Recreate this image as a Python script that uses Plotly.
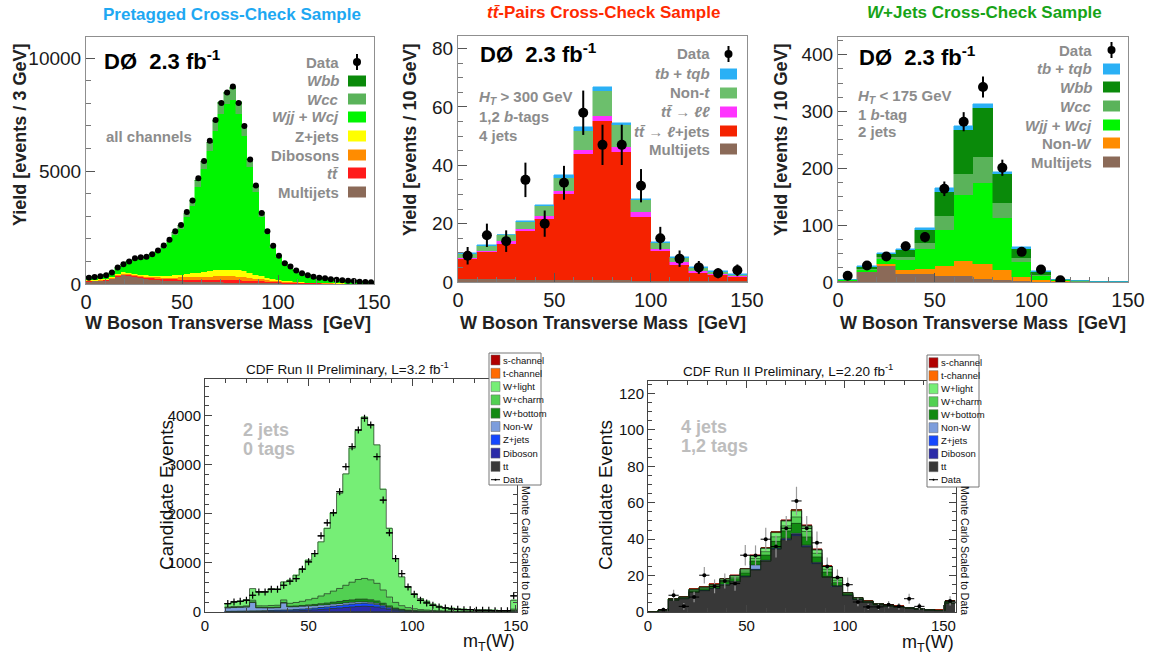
import plotly.graph_objects as go

FIG_W, FIG_H = 1151, 660
def px(x): return x / FIG_W
def py(y): return 1 - y / FIG_H

# ------------------------------------------------------------------ data
# Panel 1: D0 pretagged, 3 GeV bins from 0 to 150
p1_bin_width = 3
p1_data = [282,311,341,386,505,727,875,994,1143,1187,1202,1321,1484,1707,1959,2330,2612,3190,3695,4675,
           5446,6337,7257,8014,8474,8741,8014,6990,5506,4363,3146,2330,1692,1247,920,772,594,475,386,326,
           282,252,208,193,163,148,134,104,89,74]
p1_multijets = [110,120,130,150,220,330,390,370,310,260,220,190,170,150,135,125,115,105,95,90,
                85,80,75,70,65,60,55,50,45,40,36,32,28,25,22,20,18,16,14,12,11,10,9,8,7,6,6,5,5,4]
p1_ttbar = [10,12,14,16,20,25,30,35,40,45,50,55,60,65,70,75,80,85,90,95,100,105,108,110,110,108,105,100,92,85,
            75,65,55,47,40,33,28,23,19,16,13,11,9,8,7,6,5,4,4,3]
p1_dibosons = [10,12,14,16,20,25,30,35,40,45,50,55,60,68,75,85,95,105,115,125,135,145,155,160,165,165,160,150,135,115,
               95,75,58,45,35,27,21,17,14,11,9,8,7,6,5,4,4,3,3,2]
p1_zjets = [40,45,50,55,60,60,60,55,55,55,60,65,70,80,90,105,125,145,170,195,220,245,265,285,295,295,285,260,225,180,
            140,105,78,58,44,34,26,20,16,13,11,9,8,7,6,5,4,4,3,3]
p1_wjj = [112,117,128,142,186,279,363,470,628,720,790,888,1042,1225,1469,1757,2031,2519,3002,3807,
          4565,5321,6179,6902,7312,7504,6921,5986,4697,3653,2607,1927,1377,999,734,610,472,376,304,258,
          225,197,169,154,131,120,108,87,74,63]
p1_wcc = [7,8,8,9,12,18,23,30,40,47,51,57,67,79,95,114,132,164,195,247,296,346,401,448,474,487,449,389,305,237,
          169,125,89,65,47,39,30,24,20,17,14,13,11,10,8,8,7,6,5,4]
p1_wbb = [1,1,1,2,2,3,4,5,7,8,9,10,11,13,16,19,22,27,33,41,49,58,67,75,79,81,75,65,51,40,
          28,21,15,11,8,7,5,4,3,3,2,2,2,2,1,1,1,1,1,1]

# Panel 2: D0 ttbar cross-check, 10 GeV bins
p2_bin_width = 10
p2_multijets = [0.9,0.9,0.9,0.8,0.8,0.8,0.7,0.7,0.6,0.5,0.4,0.3,0.3,0.2,0.2]
p2_tt_ljets = [7.1,9.4,12.2,16.7,20.9,29.5,43.1,54.5,44.0,21.8,10.2,5.4,2.8,2.2,1.5]
p2_tt_ll = [0.3,0.3,0.8,0.6,0.9,0.9,1.3,1.6,1.6,1.6,0.8,1.2,0.7,0.5,0.5]
p2_non_t = [1.2,1.7,2.1,2.6,3.3,4.6,6.6,8.7,7.6,4.1,2.1,1.4,1.1,0.5,0.2]
p2_tb_tqb = [0.3,0.3,0.2,0.2,0.6,0.7,1.3,1.2,0.8,0.5,0.2,0.3,0.2,0.3,0.2]
p2_data = [9,16,14,35,20,34,58,47,47,33,15,8,5,3,4]
p2_err = [3.0,4.0,3.7,5.9,4.5,5.8,7.6,6.9,6.9,5.7,3.9,2.8,2.2,1.7,2.0]

# Panel 3: D0 W+jets cross-check, 10 GeV bins
p3_bin_width = 10
p3_multijets = [1,17.6,27.6,14.7,13.5,10.6,10,5.3,2.9,1.2,0.6,0.3,0.1,0,0]
p3_non_w = [0.5,0.5,4.7,7,10,17.6,26.4,27,18.8,7.6,2.3,0.8,0.2,0,0]
p3_wjj = [1.5,3.6,8.7,17.6,35.2,63.8,116.1,141.9,90.9,26.4,8.2,2.0,0.5,0,0]
p3_wcc = [0.3,1.2,3,4.7,10.5,23.5,38.1,45.7,26.4,7,1.8,0.4,0.1,0,0]
p3_wbb = [0.7,3.5,6,11.7,22.8,42.9,76.3,86.3,51.6,16.5,4.7,0.6,0.2,0,0]
p3_tb_tqb = [0.2,1.2,1.6,1.8,3,7,7.6,7.6,2.9,2.9,1.2,0.2,0,0,0]
p3_data = [11,29,45,63,79,164,282,343,201,53,22,3]
p3_err = [3.3,5.4,6.7,7.9,8.9,12.8,16.8,18.5,14.2,7.3,4.7,1.7]

# Panel 4: CDF 2 jets 0 tags, 3 GeV bins starting at 9.5
p4_first_edge = 9.5
p4_bin_width = 3
p4_tt = [1,1,1,1,2,2,2,2,3,3,3,4,4,5,5,6,6,7,7,8,8,8,8,8,7,6,5,4,4,3,3,2,2,2,2,1,1,1,1,1,1,1,1,1,1,1,2]
p4_diboson = [5,6,7,8,9,10,12,14,16,18,20,24,28,33,40,48,56,65,75,85,95,105,110,105,95,75,50,30,18,12,
              8,6,5,4,3,3,2,2,2,2,1,1,1,1,1,1,3]
p4_zjets = [8,9,10,11,12,13,14,15,17,19,21,24,27,30,34,38,42,46,50,54,58,60,60,56,50,40,28,18,11,7,
            5,4,3,3,2,2,2,1,1,1,1,1,1,1,1,1,3]
p4_non_w = [70,75,75,80,170,60,55,50,50,140,60,55,55,55,50,50,45,45,40,40,35,35,30,28,25,20,15,12,10,8,
            7,6,5,5,4,4,3,3,3,3,2,2,2,2,2,2,20]
p4_wbottom = [5,6,6,7,12,10,10,12,12,14,15,17,19,22,25,29,34,38,43,48,52,55,56,54,48,38,27,17,11,8,
              6,5,4,3,3,2,2,2,2,1,1,1,1,1,1,1,6]
p4_wcharm = [12,14,15,18,36,32,33,40,40,52,58,70,85,105,125,155,190,225,265,310,360,400,420,405,360,270,180,115,75,52,
             38,28,22,16,12,9,8,6,6,5,4,4,4,3,3,3,25]
p4_wlight = [69,94,104,127,236,282,283,344,325,367,470,555,667,806,913,1104,1331,1598,1940,2270,
             2732,3037,3289,3160,2822,2053,1399,894,586,421,308,222,177,124,90,68,57,46,40,35,31,31,25,26,19,19,180]
p4_data = [171,205,218,239,341,409,409,463,463,545,627,681,872,1022,1192,1553,1818,2022,2452,2962,
           3371,3711,3950,3814,3167,2281,1614,1090,783,511,360,239,184,137,102,82,62,55,48,48,35,35,35,28,28,28,330]

# Panel 5: CDF 4 jets 1,2 tags, 5.2 GeV bins from 0
p5_bin_width = 5.2
p5_tt = [0,0.8,6.4,7.3,10.8,11.7,12.8,14.7,16.5,19.3,23.0,27.8,34.4,39.6,42.0,35.7,26.6,19.0,14.0,9.0,
         6.8,5.3,4.0,3.2,2.7,2.1,1.6,1.1,0.8,4.8]
p5_diboson = [0,0,0.05,0.05,0.1,0.1,0.1,0.15,0.15,0.2,0.3,0.3,0.4,0.5,0.6,0.5,0.3,0.2,0.2,0.1,
              0.05,0.03,0.02,0.02,0.02,0.01,0.01,0.01,0.01,0.05]
p5_zjets = [0,0,0.02,0.02,0.05,0.05,0.05,0.08,0.08,0.1,0.15,0.15,0.2,0.25,0.3,0.25,0.15,0.1,0.1,0.05,
            0.02,0.02,0.01,0.01,0.01,0,0,0,0,0.03]
p5_non_w = [0,0,0.1,0.1,0.1,0.1,0.15,0.2,0.2,0.2,2.4,0.2,0.2,0.2,0.3,0.3,0.2,0.2,0.1,0.1,
            0.05,0.05,0.05,0.05,0.03,0.03,0.02,0.02,0.01,0.1]
p5_wbottom = [0,0.1,0.35,0.4,0.65,0.8,0.9,1.4,1.4,1.7,2.1,2.8,3.6,4.0,5.5,4.5,3.0,2.4,1.8,0.6,
              0.4,0.25,0.2,0.18,0.14,0.1,0.07,0.07,0.03,0.4]
p5_wcharm = [0,0.05,0.2,0.22,0.4,0.45,0.55,0.85,0.85,1.1,1.5,1.9,2.5,2.8,3.5,3.0,2.0,1.6,1.3,0.4,
             0.3,0.18,0.15,0.12,0.1,0.08,0.05,0.05,0.03,0.25]
p5_wlight = [0,0.05,0.18,0.2,0.35,0.45,0.55,0.8,0.8,1.0,1.4,1.8,2.3,2.6,3.3,2.8,1.8,1.4,1.2,0.35,
             0.25,0.15,0.14,0.1,0.08,0.06,0.04,0.04,0.02,0.25]
p5_tchan = [0,0,0,0.01,0.03,0.03,0.05,0.06,0.06,0.1,0.15,0.15,0.2,0.25,0.4,0.3,0.2,0.1,0.1,0.05,
            0.03,0.02,0.02,0.01,0.01,0.01,0.01,0.01,0,0.02]
p5_schan = [0,0,0,0,0.02,0.02,0.03,0.04,0.04,0.1,0.1,0.1,0.2,0.2,0.3,0.25,0.15,0.1,0.1,0.05,
            0.02,0.02,0.01,0.01,0.01,0.01,0.01,0.01,0,0.02]
p5_data = [None,1.3,9.2,3.1,8.2,20.2,14.1,17,15.6,31.2,31,40,36,46,61,46,38,25,19,15,
           5.5,2.8,2.8,4,3.1,7.3,3.1,None,None,6.1]
p5_err = [0,1.1,3.0,1.8,2.9,4.5,3.8,4.1,3.9,5.6,5.6,6.3,6.0,6.8,7.8,6.8,6.2,5.0,4.4,3.9,
          2.3,1.7,1.7,2.0,1.8,2.7,1.8,0,0,2.5]

# tick labels
d0_x_ticks = [0, 50, 100, 150]
p1_y_ticks = [0, 5000, 10000]
p2_y_ticks = [0, 20, 40, 60, 80]
p3_y_ticks = [0, 100, 200, 300, 400]
p4_y_ticks = [0, 1000, 2000, 3000, 4000]
p5_y_ticks = [0, 20, 40, 60, 80, 100, 120]

# ------------------------------------------------------------------ colours
C_WBB = '#0a8a0a'
C_WCC = '#5ab35a'
C_WJJ = '#00f500'
C_Z = '#ffff00'
C_DIB = '#ff8c00'
C_TT = '#ff1a1a'
C_MJ = '#8b6a58'
C_TB = '#2ab0f5'
C_NONT = '#6cbf6c'
C_TTLL = '#ff33ff'
C_TTLJ = '#f52200'
C_NONW3 = '#ff8c00'

CDF_COLS = {
    's-channel': '#b00000', 't-channel': '#ff6a00', 'W+light': '#76ee76', 'W+charm': '#52d052',
    'W+bottom': '#128a12', 'Non-W': '#7d9ddc', 'Z+jets': '#1547ff', 'Diboson': '#2b2ba8', 'tt': '#383838'}

FONT = 'Liberation Sans, Arial, Helvetica, sans-serif'
GRAY_TXT = '#8c8c8c'

fig = go.Figure()

def centers_from(first_edge, width, n):
    return [first_edge + width * (i + 0.5) for i in range(n)]

def edges_from(first_edge, width, n):
    return [first_edge + width * i for i in range(n + 1)]

def add_stack(comps, colors, centers, width, ax):
    for vals, col in zip(comps, colors):
        fig.add_trace(go.Bar(x=centers, y=vals, width=width,
                             marker=dict(color=col, line=dict(color=col, width=0.5)),
                             xaxis='x' + ax, yaxis='y' + ax, showlegend=False, hoverinfo='skip'))

def add_outlines(comps, edges, ax, color, width):
    cum = [0.0] * len(comps[0])
    for vals in comps:
        cum = [c + v for c, v in zip(cum, vals)]
        fig.add_trace(go.Scatter(x=edges, y=cum + [cum[-1]], mode='lines',
                                 line=dict(color=color, width=width, shape='hv'),
                                 xaxis='x' + ax, yaxis='y' + ax, showlegend=False, hoverinfo='skip'))

# Panel 1
c1 = centers_from(0, p1_bin_width, len(p1_data))
add_stack([p1_multijets, p1_ttbar, p1_dibosons, p1_zjets, p1_wjj, p1_wcc, p1_wbb],
          [C_MJ, C_TT, C_DIB, C_Z, C_WJJ, C_WCC, C_WBB], c1, p1_bin_width, '')
fig.add_trace(go.Scatter(x=c1, y=p1_data, mode='markers', marker=dict(color='black', size=6),
                         xaxis='x', yaxis='y', showlegend=False))

# Panel 2
c2 = centers_from(0, p2_bin_width, len(p2_multijets))
add_stack([p2_multijets, p2_tt_ljets, p2_tt_ll, p2_non_t, p2_tb_tqb],
          [C_MJ, C_TTLJ, C_TTLL, C_NONT, C_TB], c2, p2_bin_width, '2')
fig.add_trace(go.Scatter(x=c2[:len(p2_data)], y=p2_data, mode='markers',
                         marker=dict(color='black', size=10),
                         error_y=dict(type='data', array=p2_err, color='black', thickness=2, width=0),
                         xaxis='x2', yaxis='y2', showlegend=False))

# Panel 3
c3 = centers_from(0, p3_bin_width, len(p3_multijets))
add_stack([p3_multijets, p3_non_w, p3_wjj, p3_wcc, p3_wbb, p3_tb_tqb],
          [C_MJ, C_NONW3, C_WJJ, C_WCC, C_WBB, C_TB], c3, p3_bin_width, '3')
fig.add_trace(go.Scatter(x=c3[:len(p3_data)], y=p3_data, mode='markers',
                         marker=dict(color='black', size=10),
                         error_y=dict(type='data', array=p3_err, color='black', thickness=2, width=0),
                         xaxis='x3', yaxis='y3', showlegend=False))

# Panel 4
n4 = len(p4_wlight)
c4 = centers_from(p4_first_edge, p4_bin_width, n4)
e4 = edges_from(p4_first_edge, p4_bin_width, n4)
comps4 = [p4_tt, p4_diboson, p4_zjets, p4_non_w, p4_wbottom, p4_wcharm, p4_wlight]
cols4 = [CDF_COLS[k] for k in ['tt', 'Diboson', 'Z+jets', 'Non-W', 'W+bottom', 'W+charm', 'W+light']]
add_stack(comps4, cols4, c4, p4_bin_width, '4')
add_outlines(comps4, e4, '4', 'rgba(40,60,40,0.75)', 1)
fig.add_trace(go.Scatter(x=c4, y=p4_data, mode='markers',
                         marker=dict(color='black', size=5, symbol='cross-thin', line=dict(color='black', width=1.2)),
                         error_x=dict(type='constant', value=p4_bin_width / 2, color='black', thickness=1, width=0),
                         xaxis='x4', yaxis='y4', showlegend=False))

# Panel 5
n5 = len(p5_tt)
c5 = centers_from(0, p5_bin_width, n5)
e5 = edges_from(0, p5_bin_width, n5)
comps5 = [p5_tt, p5_diboson, p5_zjets, p5_non_w, p5_wbottom, p5_wcharm, p5_wlight, p5_tchan, p5_schan]
cols5 = [CDF_COLS[k] for k in ['tt', 'Diboson', 'Z+jets', 'Non-W', 'W+bottom', 'W+charm', 'W+light',
                               't-channel', 's-channel']]
add_stack(comps5, cols5, c5, p5_bin_width, '5')
add_outlines(comps5, e5, '5', 'rgba(20,40,20,0.7)', 0.8)
fig.add_trace(go.Scatter(x=c5, y=p5_data, mode='markers',
                         marker=dict(color='black', size=4),
                         error_x=dict(type='constant', value=p5_bin_width / 2, color='black', thickness=1, width=0),
                         error_y=dict(type='data', array=p5_err, color='#9a9a9a', thickness=1.2, width=0),
                         xaxis='x5', yaxis='y5', showlegend=False))

# ------------------------------------------------------------------ axes
def d0_axis(domain, rng, anchor, tickvals, minor_dtick, size):
    return dict(domain=domain, range=rng, anchor=anchor, tickvals=tickvals,
                ticktext=[str(v) for v in tickvals],
                showline=True, linecolor='#8f8f8f', linewidth=1, mirror=True,
                ticks='inside', ticklen=9, tickcolor='#555', tickwidth=1,
                minor=dict(ticks='inside', ticklen=5, tickcolor='#777', dtick=minor_dtick),
                showgrid=False, zeroline=False, fixedrange=True, automargin=False,
                tickfont=dict(family=FONT, size=size, color='#1a1a1a'))

def cdf_axis(domain, rng, anchor, tickvals, minor_dtick):
    return dict(domain=domain, range=rng, anchor=anchor, tickvals=tickvals,
                ticktext=[str(v) for v in tickvals],
                showline=True, linecolor='#444', linewidth=1, mirror='ticks',
                ticks='inside', ticklen=7, tickcolor='#444', tickwidth=1,
                minor=dict(ticks='inside', ticklen=4, tickcolor='#444', dtick=minor_dtick),
                showgrid=False, zeroline=False, fixedrange=True, automargin=False,
                tickfont=dict(family=FONT, size=15, color='#111'))

layout = dict(
    width=FIG_W, height=FIG_H, margin=dict(l=0, r=0, t=0, b=0, pad=0), autosize=False,
    paper_bgcolor='white', plot_bgcolor='white', barmode='stack', bargap=0,
    showlegend=False,
    xaxis=d0_axis([px(86), px(374)], [0, 150], 'y', d0_x_ticks, 10, 20),
    yaxis=d0_axis([py(284), py(37)], [0, 10930], 'x', p1_y_ticks, 1000, 19),
    xaxis2=d0_axis([px(458), px(747)], [0, 150], 'y2', d0_x_ticks, 10, 20),
    yaxis2=d0_axis([py(282), py(36)], [0, 84.3], 'x2', p2_y_ticks, 5, 19),
    xaxis3=d0_axis([px(838), px(1128)], [0, 150], 'y3', d0_x_ticks, 10, 20),
    yaxis3=d0_axis([py(282), py(37)], [0, 431], 'x3', p3_y_ticks, 25, 19),
    xaxis4=cdf_axis([px(205), px(517)], [0, 150.6], 'y4', d0_x_ticks, 10),
    yaxis4=cdf_axis([py(612), py(379)], [0, 4750], 'x4', p4_y_ticks, 200),
    xaxis5=cdf_axis([px(648), px(956)], [0, 156.4], 'y5', d0_x_ticks, 10),
    yaxis5=cdf_axis([py(612), py(381)], [0, 126.9], 'x5', p5_y_ticks, 5),
)
fig.update_layout(**layout)

anns = []
shapes = []

def ann(text, x, y, size, color='black', xanchor='center', yanchor='middle', angle=0):
    anns.append(dict(text=text, x=px(x), y=py(y), xref='paper', yref='paper', showarrow=False,
                     xanchor=xanchor, yanchor=yanchor, textangle=angle,
                     font=dict(family=FONT, size=size, color=color)))

# D0 titles
ann('<b>Pretagged Cross-Check Sample</b>', 232, 15, 17, '#1ea8f2')
ann('<b><i>tt\u0304</i>-Pairs Cross-Check Sample</b>', 603, 13, 17, '#ff2a00')
ann('<b><i>W</i>+Jets Cross-Check Sample</b>', 984, 13, 17, '#17a317')

# D0 axis titles
for xc in (228, 603, 983):
    ann('<b>W Boson Transverse Mass\u00a0\u00a0[GeV]</b>', xc, 323, 18, '#222')
ann('<b>Yield [events / 3 GeV]</b>', 20, 135, 18, '#222', angle=-90)
ann('<b>Yield [events / 10 GeV]</b>', 410, 140, 18, '#222', angle=-90)
ann('<b>Yield [events / 10 GeV]</b>', 781, 140, 18, '#222', angle=-90)

# D0 labels
ann('<b>DØ\u00a0\u00a02.3 fb<sup>-1</sup></b>', 102, 60, 22, 'black', xanchor='left')
ann('<b>DØ\u00a0\u00a02.3 fb<sup>-1</sup></b>', 478, 53, 22, 'black', xanchor='left')
ann('<b>DØ\u00a0\u00a02.3 fb<sup>-1</sup></b>', 857, 56, 22, 'black', xanchor='left')
ann('<b>all channels</b>', 104, 136, 15, GRAY_TXT, xanchor='left')
ann('<b><i>H<sub>T</sub></i> > 300 GeV</b>', 477, 97, 15, GRAY_TXT, xanchor='left')
ann('<b>1,2 <i>b</i>-tags</b>', 477, 116, 15, GRAY_TXT, xanchor='left')
ann('<b>4 jets</b>', 477, 135, 15, GRAY_TXT, xanchor='left')
ann('<b><i>H<sub>T</sub></i> < 175 GeV</b>', 856, 96, 15, GRAY_TXT, xanchor='left')
ann('<b>1 <i>b</i>-tag</b>', 856, 114, 15, GRAY_TXT, xanchor='left')
ann('<b>2 jets</b>', 856, 132, 15, GRAY_TXT, xanchor='left')

def d0_legend(items, rows, text_right, box_x0, box_x1):
    for (label, col), yrow in zip(items, rows):
        ann('<b>' + label + '</b>', text_right, yrow, 15, GRAY_TXT, xanchor='right')
        if col is None:
            xc = (box_x0 + box_x1) / 2
            shapes.append(dict(type='line', xref='paper', yref='paper', x0=px(xc), x1=px(xc),
                               y0=py(yrow - 8), y1=py(yrow + 8), line=dict(color='black', width=2)))
            shapes.append(dict(type='circle', xref='paper', yref='paper', x0=px(xc - 4), x1=px(xc + 4),
                               y0=py(yrow + 4), y1=py(yrow - 4), fillcolor='black', line=dict(width=0)))
        else:
            shapes.append(dict(type='rect', xref='paper', yref='paper', x0=px(box_x0), x1=px(box_x1),
                               y0=py(yrow + 5.5), y1=py(yrow - 5.5), fillcolor=col, line=dict(width=0)))

d0_legend([('Data', None), ('<i>Wbb</i>', C_WBB), ('<i>Wcc</i>', C_WCC), ('<i>Wjj</i> + <i>Wcj</i>', C_WJJ),
           ('Z+jets', C_Z), ('Dibosons', C_DIB), ('<i>tt\u0304</i>', C_TT), ('Multijets', C_MJ)],
          [62, 81, 99, 117, 136, 155, 173, 192], 341, 348, 366)
d0_legend([('Data', None), ('<i>tb</i> + <i>tqb</i>', C_TB), ('Non-<i>t</i>', C_NONT),
           ('<i>tt\u0304</i> \u2192 <i>\u2113\u2113</i>', C_TTLL), ('<i>tt\u0304</i> \u2192 <i>\u2113</i>+jets', C_TTLJ),
           ('Multijets', C_MJ)],
          [54, 74, 93, 112, 131, 149], 712, 720, 737)
d0_legend([('Data', None), ('<i>tb</i> + <i>tqb</i>', C_TB), ('<i>Wbb</i>', C_WBB), ('<i>Wcc</i>', C_WCC),
           ('<i>Wjj</i> + <i>Wcj</i>', C_WJJ), ('Non-<i>W</i>', C_NONW3), ('Multijets', C_MJ)],
          [50, 69, 87, 106, 125, 143, 162], 1094, 1103, 1120)

# CDF texts
ann('CDF Run II Preliminary, L=3.2 fb<sup>-1</sup>', 347, 368, 13.5, '#111')
ann('CDF Run II Preliminary, L=2.20 fb<sup>-1</sup>', 788, 370, 13.5, '#111')
ann('Candidate Events', 166, 495, 19, '#111', angle=-90)
ann('Candidate Events', 605, 495, 19, '#111', angle=-90)
ann('m<sub>T</sub>(W)', 517, 642, 18, '#111', xanchor='right')
ann('m<sub>T</sub>(W)', 956, 643, 18, '#111', xanchor='right')
ann('Monte Carlo Scaled to Data', 526, 550, 10.5, '#111', angle=90)
ann('Monte Carlo Scaled to Data', 965, 550, 10.5, '#111', angle=90)
ann('<b>2 jets</b>', 241, 430, 18, '#bdbdbd', xanchor='left')
ann('<b>0 tags</b>', 241, 449, 18, '#bdbdbd', xanchor='left')
ann('<b>4 jets</b>', 679, 427, 18, '#bdbdbd', xanchor='left')
ann('<b>1,2 tags</b>', 679, 446, 18, '#bdbdbd', xanchor='left')

def cdf_legend(x0, x1, y0, y1, rows):
    shapes.append(dict(type='rect', xref='paper', yref='paper', x0=px(x0), x1=px(x1), y0=py(y1), y1=py(y0),
                       fillcolor='white', line=dict(color='#777', width=1), layer='above'))
    names = ['s-channel', 't-channel', 'W+light', 'W+charm', 'W+bottom', 'Non-W', 'Z+jets', 'Diboson', 'tt']
    for name, yr in zip(names, rows):
        shapes.append(dict(type='rect', xref='paper', yref='paper', x0=px(x0 + 2), x1=px(x0 + 11),
                           y0=py(yr + 5), y1=py(yr - 5), fillcolor=CDF_COLS[name],
                           line=dict(color='#666', width=0.5), layer='above'))
        ann(name, x0 + 12, yr, 9.5, '#111', xanchor='left')
    yd = rows[-1] + (rows[-1] - rows[-2])
    shapes.append(dict(type='line', xref='paper', yref='paper', x0=px(x0 + 2), x1=px(x0 + 11),
                       y0=py(yd), y1=py(yd), line=dict(color='black', width=1), layer='above'))
    shapes.append(dict(type='circle', xref='paper', yref='paper', x0=px(x0 + 5.5), x1=px(x0 + 7.5),
                       y0=py(yd + 1), y1=py(yd - 1), fillcolor='black', line=dict(width=0), layer='above'))
    ann('Data', x0 + 12, yd, 9.5, '#111', xanchor='left')

cdf_legend(489, 541, 353, 485, [360, 373.3, 386.6, 399.9, 413.2, 426.5, 439.8, 453.1, 466.4])
cdf_legend(927, 979, 355, 487, [362.7, 375.7, 388.7, 401.7, 414.7, 427.7, 440.7, 453.7, 466.7])

fig.update_layout(annotations=anns, shapes=shapes)
fig.write_html('out.html', config={'displayModeBar': False, 'staticPlot': False},
               post_script="document.body.style.margin='0px';document.body.style.padding='0px';"
                           "document.documentElement.style.overflow='hidden';")
